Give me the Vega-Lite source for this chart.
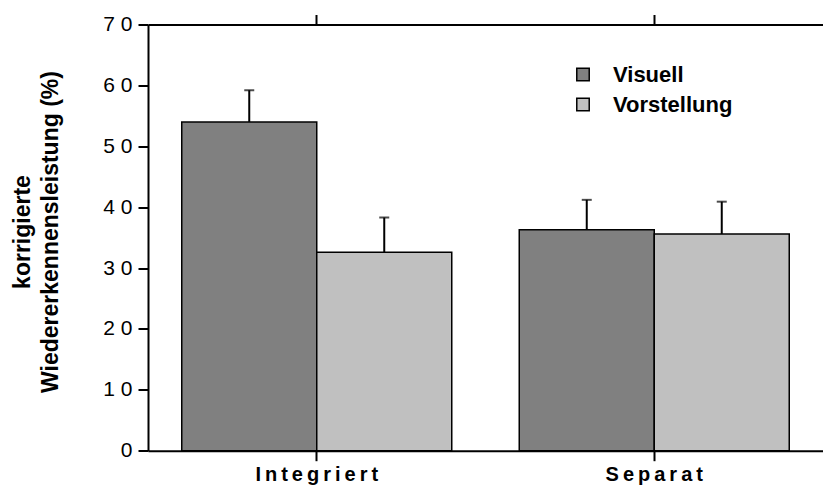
{
  "$schema": "https://vega.github.io/schema/vega-lite/v6.json",
  "width": 675,
  "height": 426.2,
  "autosize": {"type": "none"},
  "padding": {"left": 148, "top": 24.5, "right": 0, "bottom": 42.3},
  "config": {
    "view": {"stroke": null},
    "font": "Liberation Sans",
    "axis": {"grid": false, "domainColor": "black", "tickColor": "black", "labelColor": "black", "titleColor": "black", "domainWidth": 2, "tickWidth": 2}
  },
  "data": {
    "values": [
      {"gruppe": "Integriert", "modus": "Visuell", "wert": 54.0, "oben": 59.2},
      {"gruppe": "Integriert", "modus": "Vorstellung", "wert": 32.6, "oben": 38.3},
      {"gruppe": "Separat", "modus": "Visuell", "wert": 36.3, "oben": 41.2},
      {"gruppe": "Separat", "modus": "Vorstellung", "wert": 35.6, "oben": 40.9}
    ]
  },
  "layer": [
    {
      "mark": {"type": "bar", "stroke": "black", "strokeWidth": 1.5},
      "encoding": {
        "x": {
          "field": "gruppe", "type": "nominal",
          "scale": {"paddingInner": 0.2, "paddingOuter": 0.1},
          "axis": {"orient": "bottom", "title": null, "labelAngle": 0, "labelFontSize": 20, "labelFontWeight": "bold", "labelPadding": 4, "tickSize": 10,
                   "labelExpr": "join(split(datum.label, ''), '\u2009')"}
        },
        "xOffset": {"field": "modus", "type": "nominal", "scale": {"paddingInner": 0, "paddingOuter": 0}, "sort": ["Visuell", "Vorstellung"]},
        "y": {
          "field": "wert", "type": "quantitative",
          "scale": {"domain": [0, 70], "nice": false},
          "axis": {
            "values": [0, 5, 10, 15, 20, 25, 30, 35, 40, 45, 50, 55, 60, 65, 70],
            "tickSize": {"condition": {"test": "datum.value % 10 === 0", "value": 10}, "value": 5},
            "labelExpr": "datum.value % 10 === 0 ? join(split(datum.label, ''), '\u2008') : ''",
            "labelFontSize": 21, "labelPadding": 6,
            "title": ["korrigierte", "Wiedererkennensleistung (%)"],
            "titleFontSize": 23, "titleFontWeight": "bold", "titlePadding": 40, "titleY": 207, "titleLineHeight": 28
          }
        },
        "color": {
          "field": "modus", "type": "nominal",
          "scale": {"domain": ["Visuell", "Vorstellung"], "range": ["#808080", "#c0c0c0"]},
          "legend": {
            "orient": "none", "legendX": 424, "legendY": 39, "title": null,
            "symbolType": "square", "symbolSize": 155, "symbolStrokeColor": "black", "symbolStrokeWidth": 1.5,
            "labelFontSize": 22, "labelFontWeight": "bold", "labelColor": "black", "labelOffset": 19, "rowPadding": 8
          }
        }
      }
    },
    {
      "mark": {"type": "rule", "color": "black", "strokeWidth": 2},
      "encoding": {
        "x": {"field": "gruppe", "type": "nominal",
              "axis": {"orient": "top", "title": null, "labels": false, "tickSize": 10}},
        "xOffset": {"field": "modus", "type": "nominal", "sort": ["Visuell", "Vorstellung"]},
        "y": {"field": "wert", "type": "quantitative"},
        "y2": {"field": "oben"}
      }
    },
    {
      "mark": {"type": "tick", "color": "black", "thickness": 2, "size": 10},
      "encoding": {
        "x": {"field": "gruppe", "type": "nominal", "axis": null},
        "xOffset": {"field": "modus", "type": "nominal", "sort": ["Visuell", "Vorstellung"]},
        "y": {"field": "oben", "type": "quantitative"}
      }
    }
  ],
  "resolve": {"axis": {"x": "independent"}}
}
